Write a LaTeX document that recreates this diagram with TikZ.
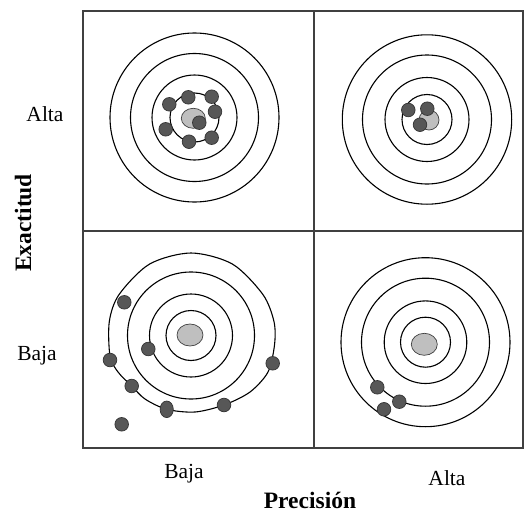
\documentclass[tikz,border=0pt]{standalone}
\usepackage{fontspec}
\setmainfont{Liberation Serif}
\begin{document}
\begin{tikzpicture}[x=1pt,y=-1pt,
  ring/.style={draw=black,line width=1.1pt},
  shot/.style={draw=black!80,fill=black!66,line width=0.7pt},
  bull/.style={draw=black!75,fill=black!25,line width=0.7pt},
  frame/.style={draw=black!75,line width=1.4pt},
  lbl/.style={font=\fontsize{21.5}{25}\selectfont,inner sep=0pt,anchor=base},
  axislbl/.style={font=\bfseries\fontsize{23.5}{28}\selectfont,inner sep=0pt,anchor=base}]
\useasboundingbox (0,0) rectangle (525,514);
\fill[white] (0,0) rectangle (525,514);
% frame
\draw[frame] (83,11) rectangle (523,448);
\draw[frame] (314,11) -- (314,448);
\draw[frame] (83,231) -- (523,231);

% ---------- top left: high accuracy, low precision
\foreach \r in {84.5,64,42.5,24.5} \draw[ring] (194.5,117.5) circle[radius=\r pt];
\draw[bull] (193.3,118.3) ellipse[x radius=12pt,y radius=10pt];
\foreach \p/\q in {169.3/104.3,188.3/97.3,211.7/96.7,215/111.7,199.3/122.7,165.7/129.3,189/141.7,211.7/137.7}
  \draw[shot] (\p,\q) circle[radius=6.8pt];

% ---------- top right: high accuracy, high precision
\foreach \r in {84.7,64.5,42,25} \draw[ring] (427,119.5) circle[radius=\r pt];
\draw[bull] (429,120) ellipse[x radius=10pt,y radius=10pt];
\foreach \p/\q in {408.3/110,427.3/108.7,420/124.7}
  \draw[shot] (\p,\q) circle[radius=6.8pt];

% ---------- bottom left: low accuracy, low precision
\foreach \r in {25,41.5,63.5} \draw[ring] (191,335.5) circle[radius=\r pt];
\draw[ring] plot[smooth cycle] coordinates {
  (109.3,321.6) (119.1,294.5) (149.5,264.1) (191,253) (232.5,264.1)
  (262.9,294.5) (274,321.6) (274.5,345) (268,372) (250,392) (224,405)
  (195,412) (166.7,409.3) (145,399) (131.7,386) (118,372) (110,356)};
\draw[bull] (190,335) ellipse[x radius=13pt,y radius=11pt];
\foreach \p/\q in {124.3/302.3,148.3/349,110/360,272.7/363.3,131.7/386,224/405,121.7/424.3}
  \draw[shot] (\p,\q) circle[radius=6.8pt];
\draw[shot] (166.7,409.3) ellipse[x radius=6.6pt,y radius=8.3pt];

% ---------- bottom right: low accuracy, high precision
\foreach \r in {84.5,64,41.3,25} \draw[ring] (425.5,342.2) circle[radius=\r pt];
\draw[bull] (424.3,344.3) ellipse[x radius=13pt,y radius=11pt];
\foreach \p/\q in {377.3/387.3,399.3/401.7,384/409.3}
  \draw[shot] (\p,\q) circle[radius=6.8pt];

% ---------- labels
\node[lbl] (altaY) at (45,121.5) {Alta};
\node[lbl] (bajaY) at (37,360) {Baja};
\node[axislbl,rotate=90] (exact) at (31,223) {Exactitud};
\node[lbl] (bajaX) at (184,478) {Baja};
\node[lbl] (altaX) at (447,485) {Alta};
\node[axislbl] (prec) at (310,508.5) {Precisión};
\end{tikzpicture}
\end{document}
